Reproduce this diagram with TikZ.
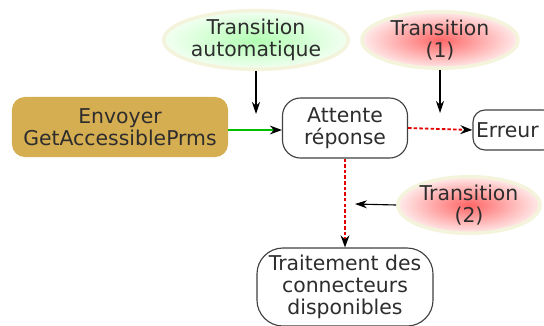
\documentclass[tikz,border=0pt]{standalone}
\usepackage{fontspec}
\setmainfont{DejaVu Sans}
\usetikzlibrary{shapes.geometric, arrows.meta, positioning}
\definecolor{boxgold}{RGB}{214,174,82}
\definecolor{txtgray}{RGB}{45,45,45}
\tikzset{
    state/.style={
        rectangle, draw=black!75, line width=0.8pt, fill=white, inner sep=1pt,
        align=center, font=\fontsize{14.5}{15.5}\selectfont, text=txtgray
    },
    action/.style={
        rectangle, rounded corners=0.32cm, draw=none, fill=boxgold,
        minimum width=5.4cm, minimum height=1.5cm,
        align=center, font=\fontsize{14.5}{15.5}\selectfont, text=txtgray
    },
    cloud_green/.style={
        ellipse, draw=olive!10, line width=2.5pt, inner color=green!30!white, outer color=green!5!white,
        minimum width=3.9cm, minimum height=1.4cm, inner sep=0pt,
        align=center, font=\fontsize{14.5}{15.5}\selectfont, text=txtgray
    },
    cloud_red/.style={
        ellipse, draw=olive!10, line width=2.5pt, inner color=red!60!white, outer color=red!8!white,
        minimum width=3.9cm, minimum height=1.4cm, inner sep=0pt,
        align=center, font=\fontsize{14.5}{15.5}\selectfont, text=txtgray
    },
    arrow/.style={
        line width=0.8pt, -{Stealth[length=3mm, width=2mm]}, draw=black
    },
    arrow_green/.style={
        line width=1.2pt, -{Stealth[length=3mm, width=2.2mm, black]}, draw=green!75!black
    },
    arrow_red/.style={
        line width=1.3pt, dash pattern=on 2.5pt off 1.5pt, -{Stealth[length=3mm, width=2.2mm, black]}, draw=red!90!black
    }
}
\begin{document}
\begin{tikzpicture}[x=0.025cm, y=-0.025cm]
    \useasboundingbox (0,0) rectangle (544,325);
    \clip (0,0) rectangle (544,325);
    % Etats
    \node[action] (envoyer) at (120,127) {Envoyer\\GetAccessiblePrms};
    \node[state, rounded corners=0.45cm, minimum width=3.125cm, minimum height=1.5cm] (attente) at (345,128) {Attente\\réponse};
    \node[state, rounded corners=0.3cm, minimum width=2.05cm, minimum height=1.0cm, text width=1.9cm, align=left] (erreur) at (514,130) {Erreur};
    \node[state, rounded corners=0.65cm, minimum width=4.4cm, minimum height=1.95cm] (traitement) at (345,287) {Traitement des\\connecteurs\\disponibles};

    % Transitions
    \node[cloud_green] (t_auto) at (256,40) {Transition\\automatique};
    \node[cloud_red] (t_un) at (440,40) {Transition\\(1)};
    \node[cloud_red, minimum width=3.55cm, minimum height=1.35cm] (t_deux) at (469,205) {Transition\\(2)};

    % Points d'arrivee
    \coordinate (p_auto) at (256,114);
    \coordinate (p_un) at (440,113);
    \coordinate (p_deux) at (355,204);

    % Connexions
    \draw[arrow_green] (envoyer.east |- 0,130) -- (attente.west |- 0,130);
    \draw[arrow_red] (attente.east) -- (erreur.west);
    \draw[arrow_red] (attente.south) -- (traitement.north);
    \draw[arrow] (t_auto.south) -- (p_auto);
    \draw[arrow] (t_un.south) -- (p_un);
    \draw[arrow] (t_deux.west) -- (p_deux);
\end{tikzpicture}
\end{document}
